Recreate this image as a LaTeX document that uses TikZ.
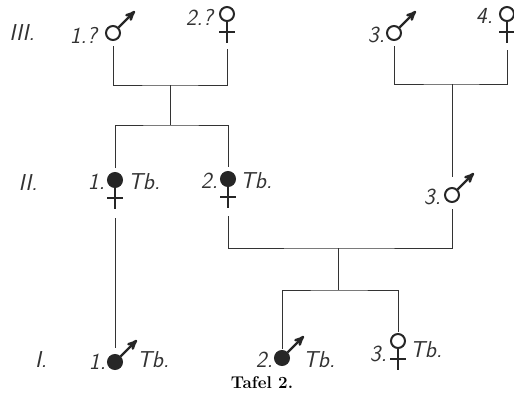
\documentclass[tikz,border=0pt]{standalone}
\usepackage{amsmath}
\usepackage{amssymb}
\usetikzlibrary{arrows,positioning}

\begin{document}
\begin{tikzpicture}[x=1pt,y=-1pt,>=stealth',
    ind/.style={circle,draw=black!85,line width=2pt,minimum size=14pt,inner sep=0pt},
    sym/.style={line width=2.3pt,draw=black!85},
    male/.style={ind,append after command={(\tikzlastnode.45) edge[sym,->] ++(45:23pt)}},
    female/.style={ind,append after command={(\tikzlastnode.south) edge[sym] ++(0,-21pt)
        ([yshift=-10pt]\tikzlastnode.south) edge[sym] ++(-8pt,0)
        ([yshift=-10pt]\tikzlastnode.south) edge[sym] ++(8pt,0)}},
    filled/.style={fill=black!85},
    lbl/.style={inner sep=0pt,text=black!80,font=\sffamily\itshape\fontsize{23}{23}\selectfont},
    link/.style={draw=black!80,line width=1pt}]
  \useasboundingbox (0,0) rectangle (514,397);

  % generation III
  \node[lbl] (g3) at (22,33) {III.};
  \node[male]   (m1) at (113,33) {};
  \node[female] (f2) at (227,14) {};
  \node[male]   (m3) at (394,33) {};
  \node[female] (f4) at (507,14) {};
  \node[lbl,left=8pt of m1,yshift=-2pt] (m1n) {1.?};
  \node[lbl,left=6pt of f2,yshift=-3pt] (f2n) {2.?};
  \node[lbl,left=1pt of m3,yshift=-2pt] (m3n) {3.};
  \node[lbl,left=6pt of f4,yshift=-2pt] (f4n) {4.};

  % generation II
  \node[lbl] (g2) at (28,183) {II.};
  \node[female,filled] (f1b) at (115,180) {};
  \node[female,filled] (f2b) at (228,179) {};
  \node[male]          (m3b) at (452,195) {};
  \node[lbl,left=2pt of f1b,yshift=-2pt] (f1bn) {1.};
  \node[lbl,right=5pt of f1b,yshift=-2pt] (f1bt) {Tb.};
  \node[lbl,left=2pt of f2b,yshift=-2pt] (f2bn) {2.};
  \node[lbl,right=4pt of f2b,yshift=-2pt] (f2bt) {Tb.};
  \node[lbl,left=3pt of m3b,yshift=-2pt] (m3bn) {3.};

  % generation I
  \node[lbl] (g1) at (41,360) {I.};
  \node[male,filled] (m1c) at (115,362) {};
  \node[male,filled] (m2c) at (282,358) {};
  \node[female]      (f3c) at (398,341) {};
  \node[lbl,left=1pt of m1c] (m1cn) {1.};
  \node[lbl,right=14pt of m1c,yshift=2pt] (m1ct) {Tb.};
  \node[lbl,left=1pt of m2c,yshift=-2pt] (m2cn) {2.};
  \node[lbl,right=13pt of m2c,yshift=-2pt] (m2ct) {Tb.};
  \node[lbl,left=3pt of f3c,yshift=-13pt] (f3cn) {3.};
  \node[lbl,right=4pt of f3c,yshift=-9pt] (f3ct) {Tb.};

  \node[font=\bfseries\fontsize{17}{17}\selectfont] (cap) at (262,383) {Tafel 2.};

  % pedigree lines
  \coordinate (j1) at (170,85);
  \coordinate (j2) at (170,125);
  \coordinate (j3) at (452,84);
  \coordinate (j4) at (338,248);
  \coordinate (j5) at (338,290);

  \draw[link,shorten <=5pt,shorten >=27pt] (m1) |- (j1) -| (f2);
  \draw[link] (j1) -- (j2);
  \draw[link,shorten <=4pt,shorten >=4pt] (f1b) |- (j2) -| (f2b);
  \draw[link,shorten <=5pt,shorten >=28pt] (m3) |- (j3) -| (f4);
  \draw[link,shorten >=10pt] (j3) -- (m3b);
  \draw[link,shorten <=6pt,shorten >=29pt] (m3b) |- (j4) -| (f2b);
  \draw[link] (j4) -- (j5);
  \draw[link,shorten <=1pt,shorten >=1pt] (m2c) |- (j5) -| (f3c);
  \draw[link,shorten <=30pt,shorten >=6pt] (f1b) -- (m1c);
\end{tikzpicture}
\end{document}
